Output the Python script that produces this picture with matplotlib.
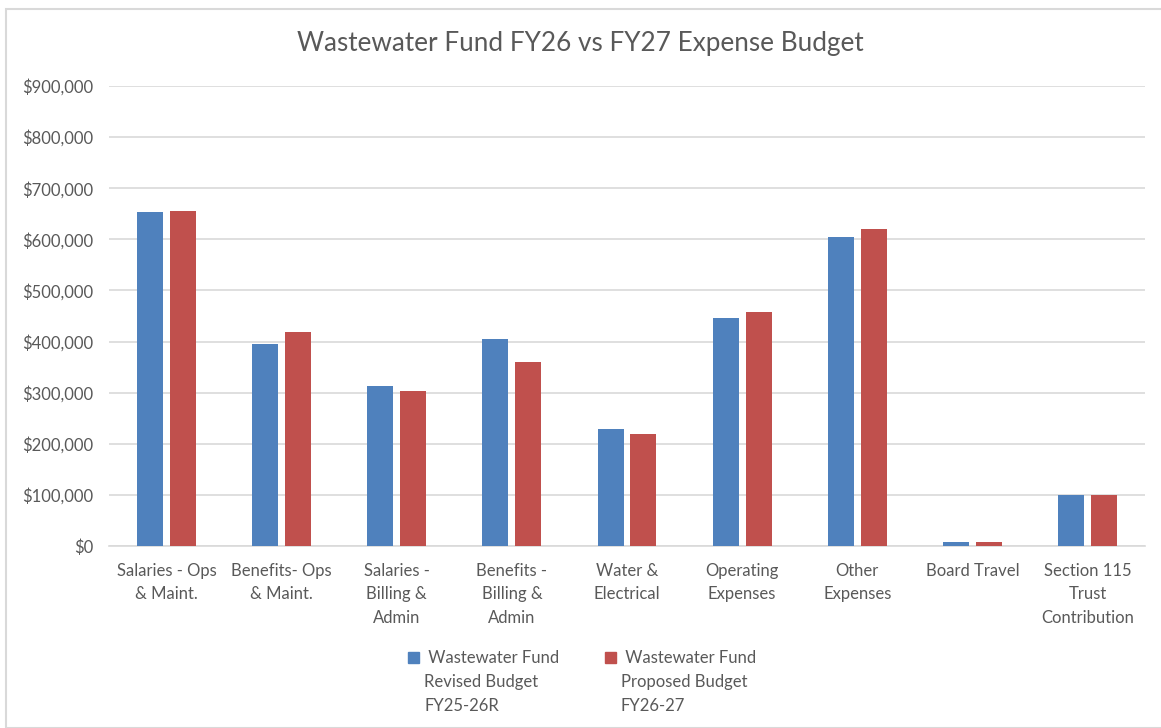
import matplotlib.pyplot as plt
import matplotlib.patches as mpatches
from matplotlib.ticker import FuncFormatter
import numpy as np

plt.rcParams['font.family'] = ['Lato', 'DejaVu Sans']

# Chart data
categories = [
    "Salaries - Ops\n& Maint.",
    "Benefits- Ops\n& Maint.",
    "Salaries -\nBilling &\nAdmin",
    "Benefits -\nBilling &\nAdmin",
    "Water &\nElectrical",
    "Operating\nExpenses",
    "Other\nExpenses",
    "Board Travel",
    "Section 115\nTrust\nContribution",
]
revised_fy26 = [654000, 395000, 314000, 405000, 229000, 447000, 604000, 8000, 100000]
proposed_fy27 = [655000, 419000, 303000, 360000, 219000, 458000, 621000, 8000, 100000]
series_names = [
    " Wastewater Fund\nRevised Budget\nFY25-26R",
    " Wastewater Fund\nProposed Budget\nFY26-27",
]

BLUE = '#4f81bd'
RED = '#c0504d'
TEXT = '#595959'
W, H = 1161, 728

fig = plt.figure(figsize=(W / 100, H / 100), dpi=100)
ax = fig.add_axes([109 / W, 1 - 546 / H, (1145 - 109) / W, (546 - 86) / H])

# light frame around the whole chart, like the spreadsheet chart box
fig.patches.append(mpatches.Rectangle((6 / W, 0), 1.2, 1 - 9 / H, transform=fig.transFigure,
                                      fill=False, edgecolor='#d9d9d9', linewidth=1.5))

x = np.arange(len(categories))
w = 0.226
ax.bar(x - 0.143, revised_fy26, w, color=BLUE, zorder=3)
ax.bar(x + 0.143, proposed_fy27, w, color=RED, zorder=3)

ax.set_xlim(-0.5, len(categories) - 0.5)
ax.set_ylim(0, 900000)
ax.set_yticks(range(0, 900001, 100000))
ax.yaxis.set_major_formatter(FuncFormatter(lambda v, p: f"${v:,.0f}"))
ax.yaxis.grid(True, color='#d9d9d9', linewidth=1.2, zorder=0)
ax.set_axisbelow(True)
for s in ['top', 'right', 'left']:
    ax.spines[s].set_visible(False)
ax.spines['bottom'].set_color('#d9d9d9')
ax.spines['bottom'].set_linewidth(1.2)
ax.tick_params(axis='both', length=0, labelsize=12, labelcolor=TEXT)
ax.tick_params(axis='y', pad=11)
ax.tick_params(axis='x', pad=12)
ax.set_xticks(x)
ax.set_xticklabels(categories, linespacing=1.6)

fig.text(0.5, 1 - 44 / H, "Wastewater Fund FY26 vs FY27 Expense Budget",
         ha='center', va='center', fontsize=18.8, color=TEXT)

# legend: square marker beside the first line of a three-line label
legend_x = [(408, 424), (605, 621)]
for (sx, tx), name, col in zip(legend_x, series_names, [BLUE, RED]):
    fig.patches.append(mpatches.Rectangle((sx / W, 1 - 663 / H), 11 / W, 11 / H,
                                          transform=fig.transFigure, color=col))
    fig.text(tx / W, 1 - 650 / H, name, ha='left', va='top', fontsize=12,
             color=TEXT, linespacing=1.6)

fig.savefig('out.png', dpi=100)
